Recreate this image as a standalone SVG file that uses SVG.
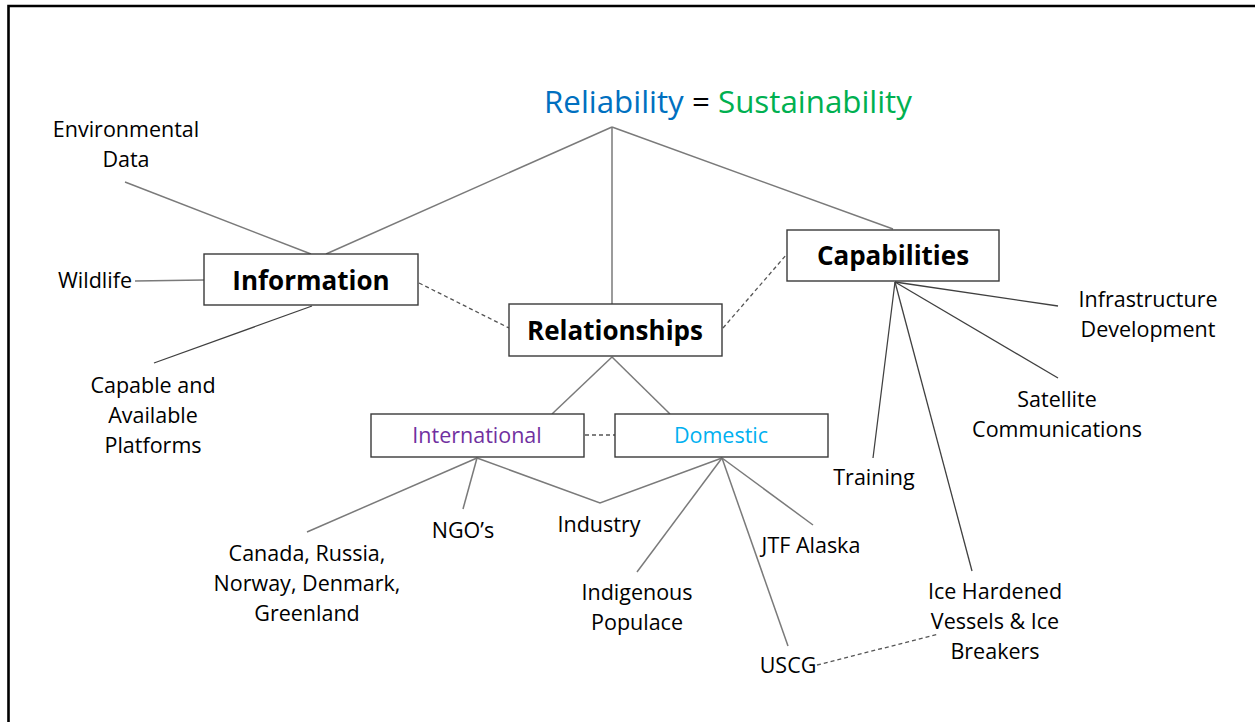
<svg xmlns="http://www.w3.org/2000/svg" width="1255" height="722" viewBox="0 0 1255 722">
<style>
.t{font-family:"Open Sans","Liberation Sans",sans-serif;font-size:21.5px;fill:#000;text-anchor:middle}
.b{font-family:"Open Sans","Liberation Sans",sans-serif;font-size:26px;font-weight:bold;fill:#000;text-anchor:middle}
.box{fill:#fff;stroke:#3a3a3a;stroke-width:1.4}
.ln{stroke:#7a7a7a;stroke-width:1.5;fill:none}
.dk{stroke:#404040;stroke-width:1.3;fill:none}
.ds{stroke:#555;stroke-width:1.3;stroke-dasharray:4 3;fill:none}
</style>
<rect width="1255" height="722" fill="#fff"/>
<path d="M8.5,722 V6 H1255" fill="none" stroke="#000" stroke-width="2.6"/>
<g id="connectors">
<line class="ln" x1="612" y1="127" x2="326" y2="254"/>
<line class="ln" x1="612" y1="127" x2="612" y2="304"/>
<line class="ln" x1="612" y1="127" x2="893" y2="229"/>
<line class="ln" x1="125" y1="182" x2="311" y2="254"/>
<line class="ln" x1="135" y1="281" x2="204" y2="280"/>
<line class="dk" x1="154" y1="363" x2="312" y2="306"/>
<line class="ds" x1="419" y1="283" x2="509" y2="328"/>
<line class="ds" x1="723" y1="328" x2="787" y2="254"/>
<line class="ln" x1="612" y1="357" x2="552" y2="414"/>
<line class="ln" x1="612" y1="357" x2="670" y2="414"/>
<line class="ds" x1="585" y1="435" x2="615" y2="435"/>
<line class="ln" x1="477" y1="458" x2="307" y2="532"/>
<line class="ln" x1="477" y1="458" x2="463" y2="509"/>
<polyline class="ln" points="477,458 600,503 722,458"/>
<line class="ln" x1="722" y1="458" x2="637" y2="572"/>
<line class="ln" x1="722" y1="458" x2="788" y2="646"/>
<line class="ln" x1="722" y1="458" x2="813" y2="525"/>
<line class="ds" x1="817" y1="665" x2="939" y2="634"/>
<line class="dk" x1="895" y1="282" x2="1058" y2="306"/>
<line class="dk" x1="895" y1="282" x2="1058" y2="378"/>
<line class="dk" x1="895" y1="282" x2="873" y2="458"/>
<line class="dk" x1="895" y1="282" x2="972" y2="571"/>
</g>
<g id="title"><text x="728" y="113" style="font-family:'Open Sans','Liberation Sans',sans-serif;font-size:31.3px;text-anchor:middle"><tspan fill="#0070C0">Reliability</tspan><tspan fill="#000"> = </tspan><tspan fill="#00B050">Sustainability</tspan></text></g>
<g id="information"><rect class="box" x="204" y="254" width="214" height="51"/><text class="b" x="311" y="290">Information</text></g>
<g id="relationships"><rect class="box" x="509" y="304" width="213" height="52"/><text class="b" x="615" y="340">Relationships</text></g>
<g id="capabilities"><rect class="box" x="787" y="230" width="212" height="51"/><text class="b" x="893" y="265">Capabilities</text></g>
<g id="international"><rect class="box" x="371" y="414" width="213" height="43"/><text class="t" x="477" y="443" style="fill:#7030A0">International</text></g>
<g id="domestic"><rect class="box" x="615" y="414" width="213" height="43"/><text class="t" x="721" y="443" style="fill:#00B0F0">Domestic</text></g>
<g id="environmental-data"><text class="t" x="126" y="137">Environmental</text><text class="t" x="126" y="167">Data</text></g>
<g id="wildlife"><text class="t" x="95" y="288">Wildlife</text></g>
<g id="platforms"><text class="t" x="153" y="393">Capable and</text><text class="t" x="153" y="423">Available</text><text class="t" x="153" y="453">Platforms</text></g>
<g id="countries"><text class="t" x="307" y="561">Canada, Russia,</text><text class="t" x="307" y="591">Norway, Denmark,</text><text class="t" x="307" y="621">Greenland</text></g>
<g id="ngos"><text class="t" x="463" y="538">NGO’s</text></g>
<g id="industry"><text class="t" x="599" y="532">Industry</text></g>
<g id="indigenous"><text class="t" x="637" y="600">Indigenous</text><text class="t" x="637" y="630">Populace</text></g>
<g id="jtf-alaska"><text class="t" x="811" y="553">JTF Alaska</text></g>
<g id="uscg"><text class="t" x="788" y="673">USCG</text></g>
<g id="infrastructure"><text class="t" x="1148" y="307">Infrastructure</text><text class="t" x="1148" y="337">Development</text></g>
<g id="satellite"><text class="t" x="1057" y="407">Satellite</text><text class="t" x="1057" y="437">Communications</text></g>
<g id="training"><text class="t" x="874" y="485">Training</text></g>
<g id="ice"><text class="t" x="995" y="599">Ice Hardened</text><text class="t" x="995" y="629">Vessels &amp; Ice</text><text class="t" x="995" y="659">Breakers</text></g>
</svg>
